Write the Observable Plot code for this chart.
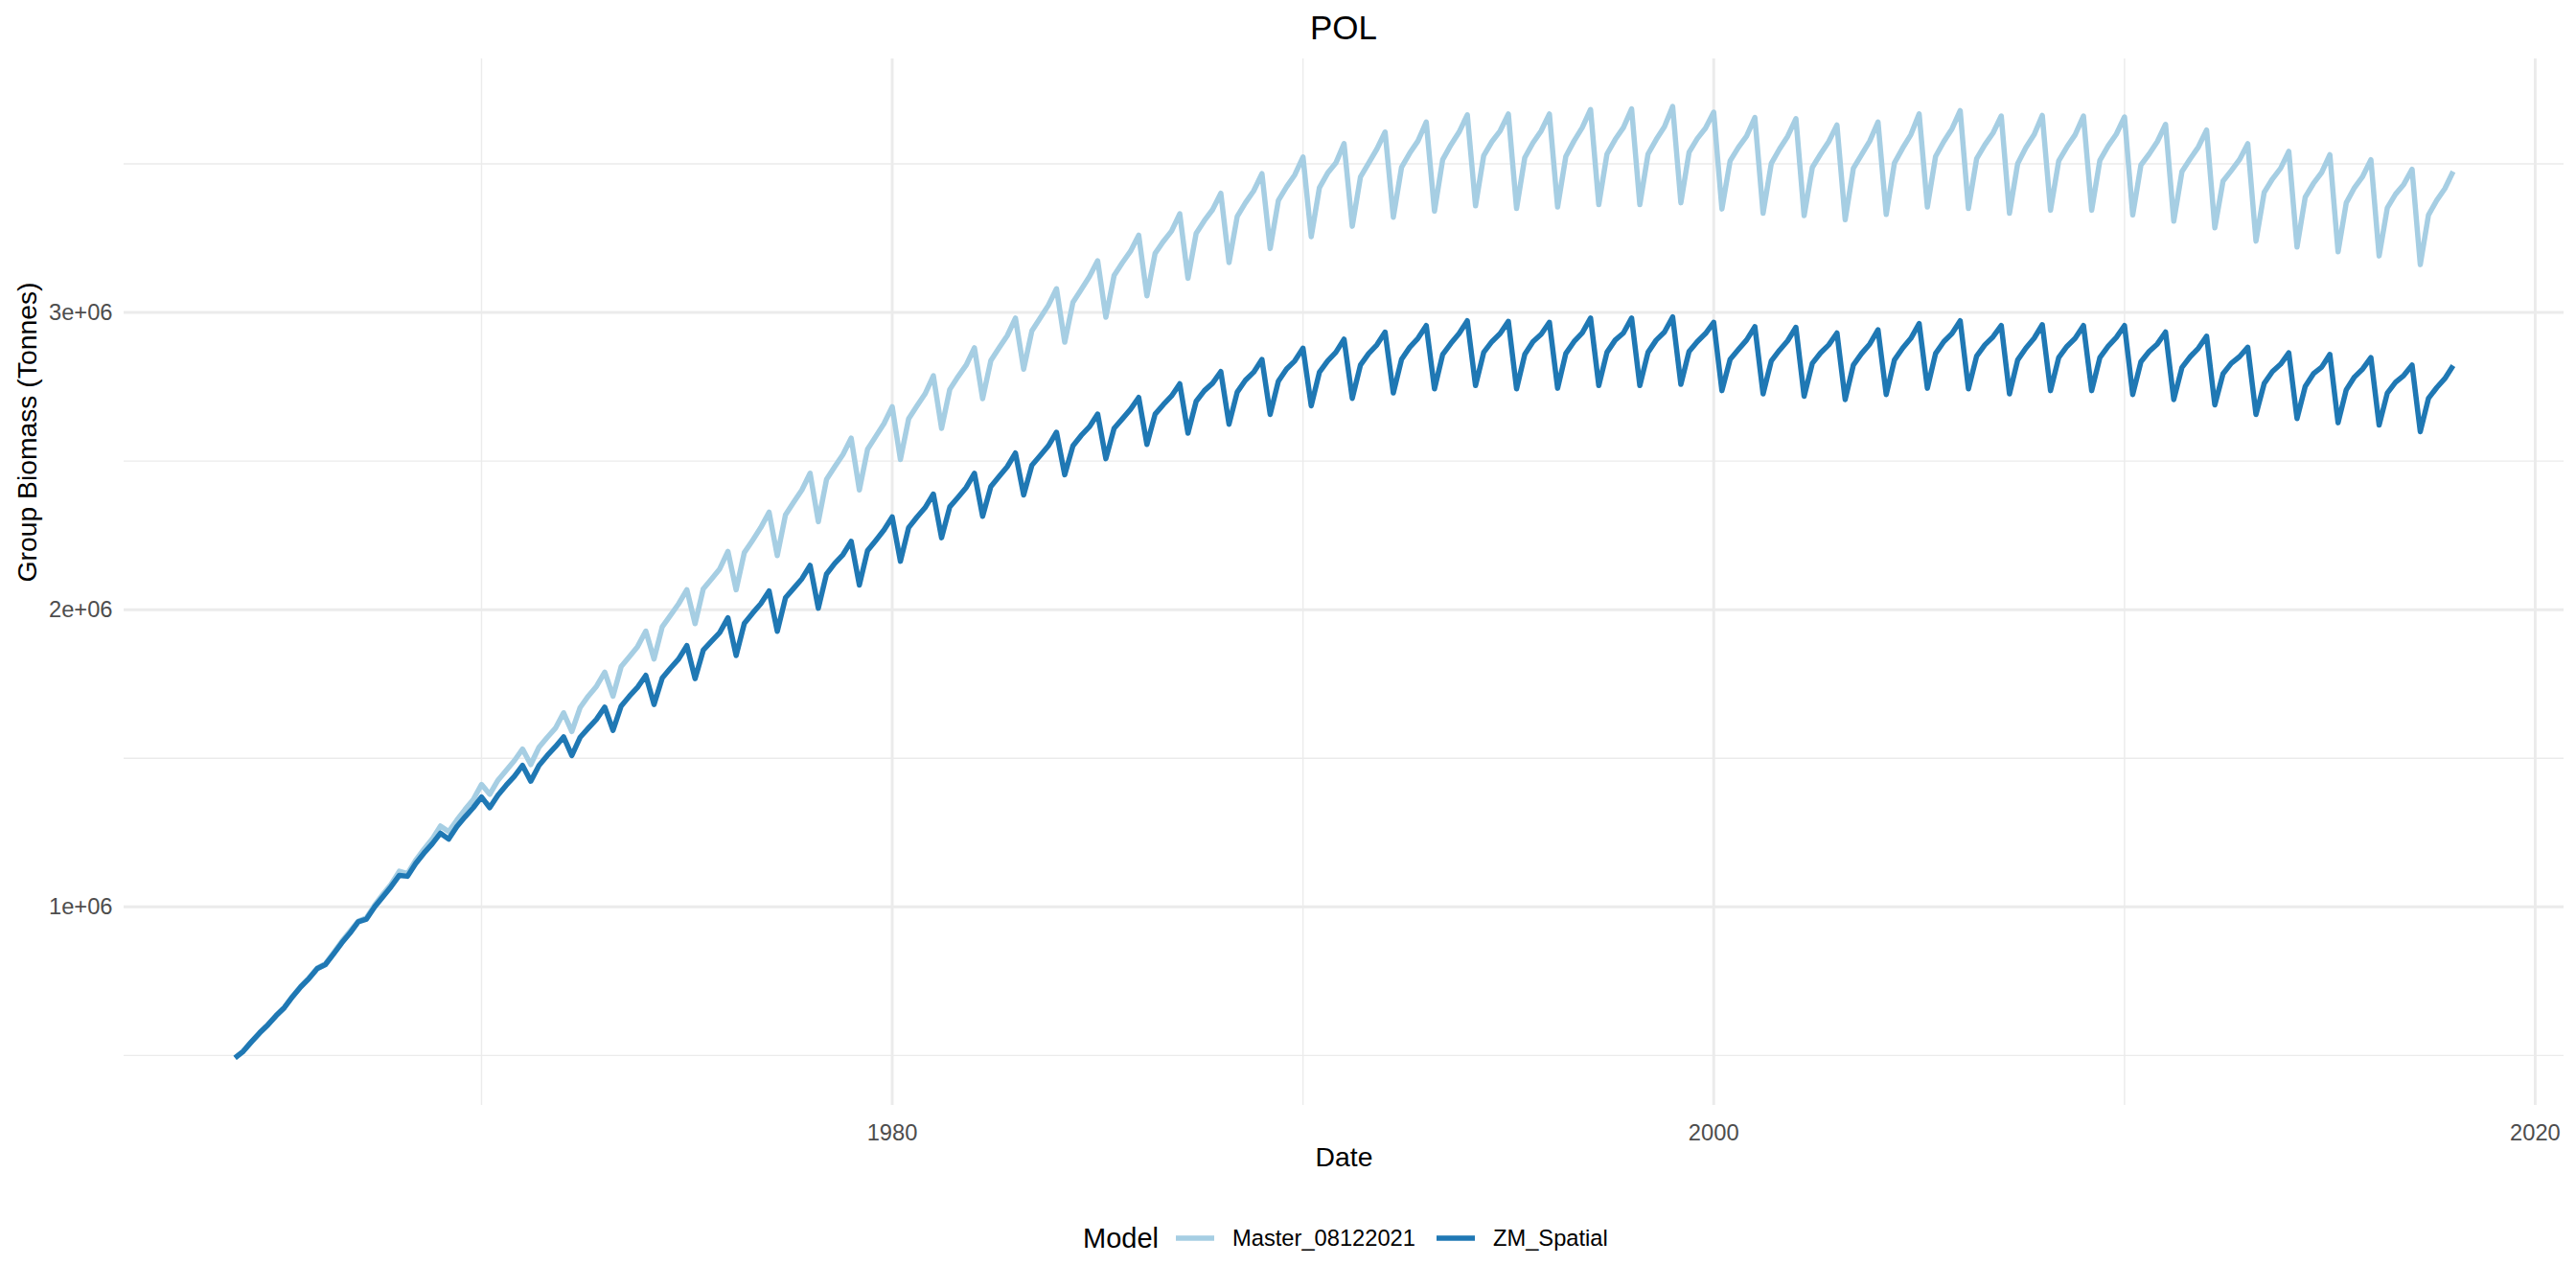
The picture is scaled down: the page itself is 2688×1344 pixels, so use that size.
<!DOCTYPE html>
<html>
<head>
<meta charset="utf-8">
<script src="https://cdn.jsdelivr.net/npm/d3@7"></script>
<script src="https://cdn.jsdelivr.net/npm/@observablehq/plot@0.6"></script>
<style>
  html, body { margin: 0; padding: 0; background: #ffffff; }
  #root { position: relative; width: 2688px; height: 1344px; overflow: hidden; background: #ffffff;
          font-family: "Liberation Sans", Arial, Helvetica, sans-serif; }
  #title { position: absolute; left: 129px; width: 2546px; top: 11px; text-align: center;
           font-size: 35px; line-height: 35px; color: #000000; }
  #chart { position: absolute; left: 0; top: 50px; }
  #legend { position: absolute; left: 1130px; top: 1274px; height: 36px; display: flex; align-items: center;
            white-space: nowrap; color: #000000; }
  #legend .ltitle { font-size: 29px; margin-right: 18px; }
  #legend .key { width: 40px; height: 36px; margin-right: 19px; }
  #legend .lab { font-size: 23.7px; margin-right: 22px; }
</style>
</head>
<body>
<div id="root">
  <div id="title">POL</div>
  <div id="chart"></div>
  <div id="legend"></div>
</div>
<script>
// ---- data (values in millions of tonnes), 5 model time steps (73 days) per year ----
const firstYear = 1964;
const stepDays = [0, 73, 146, 219, 292];
const models = ["Master_08122021", "ZM_Spatial"];
const colors = ["#a6cee3", "#1f78b4"];

const master = [
  [0.492, 0.514, 0.546, 0.576, 0.603], // 1964
  [0.635, 0.662, 0.699, 0.733, 0.761],
  [0.794, 0.809, 0.846, 0.884, 0.918],
  [0.952, 0.963, 1.006, 1.042, 1.076],
  [1.120, 1.112, 1.157, 1.194, 1.228],
  [1.272, 1.253, 1.292, 1.328, 1.361],
  [1.412, 1.379, 1.426, 1.459, 1.492], // 1970
  [1.531, 1.479, 1.537, 1.570, 1.601],
  [1.653, 1.590, 1.670, 1.709, 1.742],
  [1.790, 1.709, 1.809, 1.842, 1.876],
  [1.928, 1.834, 1.942, 1.981, 2.020],
  [2.067, 1.953, 2.070, 2.103, 2.137],
  [2.196, 2.067, 2.192, 2.233, 2.276],
  [2.328, 2.182, 2.319, 2.362, 2.403],
  [2.459, 2.296, 2.438, 2.481, 2.522],
  [2.577, 2.403, 2.540, 2.583, 2.626],
  [2.683, 2.505, 2.642, 2.685, 2.726], // 1980
  [2.787, 2.610, 2.741, 2.784, 2.823],
  [2.881, 2.710, 2.838, 2.881, 2.922],
  [2.981, 2.809, 2.938, 2.981, 3.024],
  [3.080, 2.900, 3.034, 3.077, 3.120],
  [3.174, 2.984, 3.124, 3.167, 3.206],
  [3.260, 3.056, 3.199, 3.239, 3.274],
  [3.332, 3.115, 3.266, 3.309, 3.346],
  [3.401, 3.168, 3.323, 3.369, 3.409],
  [3.467, 3.215, 3.377, 3.423, 3.463],
  [3.523, 3.255, 3.420, 3.469, 3.503], // 1990
  [3.568, 3.290, 3.456, 3.503, 3.550],
  [3.607, 3.320, 3.488, 3.536, 3.577],
  [3.641, 3.341, 3.514, 3.564, 3.607],
  [3.665, 3.359, 3.528, 3.575, 3.611],
  [3.668, 3.350, 3.521, 3.571, 3.611],
  [3.668, 3.355, 3.525, 3.577, 3.622],
  [3.683, 3.363, 3.533, 3.582, 3.622],
  [3.685, 3.363, 3.533, 3.582, 3.625],
  [3.693, 3.369, 3.539, 3.585, 3.620],
  [3.674, 3.348, 3.510, 3.555, 3.593], // 2000
  [3.656, 3.334, 3.501, 3.550, 3.593],
  [3.652, 3.326, 3.488, 3.533, 3.575],
  [3.631, 3.312, 3.485, 3.531, 3.577],
  [3.641, 3.330, 3.503, 3.553, 3.598],
  [3.668, 3.355, 3.525, 3.575, 3.618],
  [3.679, 3.350, 3.517, 3.564, 3.604],
  [3.661, 3.334, 3.501, 3.555, 3.598],
  [3.663, 3.344, 3.510, 3.557, 3.598],
  [3.661, 3.344, 3.512, 3.560, 3.600],
  [3.658, 3.328, 3.496, 3.533, 3.575], // 2010
  [3.633, 3.307, 3.474, 3.517, 3.557],
  [3.614, 3.285, 3.442, 3.477, 3.514],
  [3.568, 3.240, 3.404, 3.449, 3.485],
  [3.542, 3.220, 3.388, 3.434, 3.471],
  [3.531, 3.204, 3.369, 3.420, 3.458],
  [3.514, 3.190, 3.352, 3.398, 3.431],
  [3.482, 3.161, 3.328, 3.377, 3.417],
  [3.474]                               // 2018
];

const zmSpatial = [
  [0.492, 0.514, 0.546, 0.576, 0.603], // 1964
  [0.634, 0.661, 0.698, 0.731, 0.759],
  [0.792, 0.806, 0.842, 0.879, 0.912],
  [0.950, 0.959, 1.000, 1.034, 1.068],
  [1.106, 1.103, 1.146, 1.181, 1.212],
  [1.248, 1.228, 1.270, 1.303, 1.334],
  [1.370, 1.334, 1.376, 1.409, 1.439], // 1970
  [1.476, 1.423, 1.476, 1.509, 1.539],
  [1.572, 1.509, 1.570, 1.601, 1.631],
  [1.672, 1.594, 1.676, 1.709, 1.739],
  [1.779, 1.681, 1.770, 1.803, 1.834],
  [1.879, 1.768, 1.864, 1.894, 1.923],
  [1.973, 1.846, 1.954, 1.988, 2.020],
  [2.063, 1.927, 2.040, 2.072, 2.104],
  [2.149, 2.005, 2.120, 2.156, 2.185],
  [2.230, 2.083, 2.199, 2.233, 2.268],
  [2.312, 2.163, 2.276, 2.311, 2.343], // 1980
  [2.389, 2.242, 2.346, 2.378, 2.411],
  [2.459, 2.314, 2.414, 2.448, 2.481],
  [2.527, 2.386, 2.486, 2.518, 2.551],
  [2.597, 2.454, 2.551, 2.586, 2.615],
  [2.658, 2.508, 2.610, 2.642, 2.674],
  [2.714, 2.556, 2.658, 2.690, 2.719],
  [2.760, 2.594, 2.701, 2.737, 2.762],
  [2.801, 2.624, 2.732, 2.772, 2.799],
  [2.842, 2.657, 2.769, 2.810, 2.837],
  [2.880, 2.686, 2.799, 2.837, 2.866], // 1990
  [2.910, 2.711, 2.823, 2.862, 2.891],
  [2.934, 2.729, 2.842, 2.883, 2.913],
  [2.956, 2.743, 2.859, 2.896, 2.929],
  [2.972, 2.754, 2.866, 2.902, 2.929],
  [2.970, 2.743, 2.859, 2.902, 2.927],
  [2.967, 2.745, 2.862, 2.902, 2.931],
  [2.981, 2.754, 2.866, 2.907, 2.931],
  [2.981, 2.754, 2.866, 2.907, 2.934],
  [2.985, 2.758, 2.869, 2.902, 2.929],
  [2.967, 2.737, 2.842, 2.875, 2.907], // 2000
  [2.952, 2.726, 2.837, 2.873, 2.905],
  [2.950, 2.718, 2.829, 2.864, 2.891],
  [2.931, 2.707, 2.823, 2.862, 2.894],
  [2.942, 2.724, 2.840, 2.880, 2.913],
  [2.963, 2.745, 2.862, 2.902, 2.929],
  [2.972, 2.743, 2.853, 2.891, 2.918],
  [2.956, 2.726, 2.840, 2.880, 2.913],
  [2.959, 2.737, 2.848, 2.886, 2.913],
  [2.956, 2.737, 2.848, 2.886, 2.916],
  [2.956, 2.724, 2.834, 2.869, 2.894], // 2010
  [2.934, 2.707, 2.815, 2.851, 2.880],
  [2.920, 2.689, 2.794, 2.829, 2.851],
  [2.883, 2.657, 2.761, 2.801, 2.826],
  [2.864, 2.643, 2.751, 2.794, 2.816],
  [2.859, 2.629, 2.740, 2.783, 2.810],
  [2.848, 2.621, 2.729, 2.765, 2.788],
  [2.823, 2.599, 2.711, 2.747, 2.778],
  [2.821]                               // 2018
];

// ---- axis ticks / labels ----
const xMajorYears = [1980, 2000, 2020];
const xMinorYears = [1970, 1990, 2010];
const yMajor = [1e6, 2e6, 3e6];
const yMinor = [0.5e6, 1.5e6, 2.5e6, 3.5e6];
const yTickLabels = ["1e+06", "2e+06", "3e+06"];

// ---- build table ----
const seriesData = [master, zmSpatial];
const rows = [];
seriesData.forEach((series, s) => {
  series.forEach((yearVals, yi) => {
    yearVals.forEach((v, j) => {
      rows.push({
        model: models[s],
        date: new Date(Date.UTC(firstYear + yi, 0, 1 + stepDays[j])),
        value: v * 1e6
      });
    });
  });
});

// ggplot-like 5% expansion
const xExt = d3.extent(rows, d => +d.date);
const xPad = (xExt[1] - xExt[0]) * 0.05;
const xDomain = [new Date(xExt[0] - xPad), new Date(xExt[1] + xPad)];
const yExt = d3.extent(rows, d => d.value);
const yPad = (yExt[1] - yExt[0]) * 0.05;
const yDomain = [yExt[0] - yPad, yExt[1] + yPad];

const toDate = y => new Date(Date.UTC(y, 0, 1));
const grid = "#ebebeb";
const font = "Liberation Sans, Arial, Helvetica, sans-serif";

const chart = Plot.plot({
  width: 2688,
  height: 1230,
  marginLeft: 129,
  marginRight: 13,
  marginTop: 11,
  marginBottom: 127,
  style: { fontFamily: font, background: "#ffffff", overflow: "visible" },
  x: { type: "utc", domain: xDomain },
  y: { domain: yDomain },
  color: { domain: models, range: colors },
  marks: [
    Plot.ruleX(xMinorYears.map(toDate), { stroke: grid, strokeWidth: 1.4 }),
    Plot.ruleY(yMinor, { stroke: grid, strokeWidth: 1.4 }),
    Plot.ruleX(xMajorYears.map(toDate), { stroke: grid, strokeWidth: 2.9 }),
    Plot.ruleY(yMajor, { stroke: grid, strokeWidth: 2.9 }),
    Plot.line(rows, {
      x: "date", y: "value", z: "model", stroke: "model",
      strokeWidth: 5.5, strokeLinejoin: "round", strokeLinecap: "butt"
    }),
    Plot.axisX(xMajorYears.map(toDate), {
      tickSize: 0, tickPadding: 20, fontSize: 23.7, color: "#4d4d4d",
      tickFormat: d => String(d.getUTCFullYear()), label: null
    }),
    Plot.axisY(yMajor, {
      tickSize: 0, tickPadding: 12, fontSize: 23.7, color: "#4d4d4d",
      tickFormat: d => yTickLabels[yMajor.indexOf(d)], label: null
    }),
    Plot.text(["Date"], { text: d => d, frameAnchor: "bottom", dy: 63, fontSize: 28.3, fill: "#000000" }),
    Plot.text(["Group Biomass (Tonnes)"], {
      text: d => d, frameAnchor: "left", dx: -101, rotate: -90, fontSize: 28.3, fill: "#000000"
    })
  ]
});
document.getElementById("chart").appendChild(chart);

// ---- legend ----
const legend = document.getElementById("legend");
const lt = document.createElement("span");
lt.className = "ltitle";
lt.textContent = "Model";
legend.appendChild(lt);
models.forEach((m, i) => {
  const ns = "http://www.w3.org/2000/svg";
  const svg = document.createElementNS(ns, "svg");
  svg.setAttribute("class", "key");
  svg.setAttribute("width", "40");
  svg.setAttribute("height", "36");
  const ln = document.createElementNS(ns, "line");
  ln.setAttribute("x1", "0"); ln.setAttribute("x2", "40");
  ln.setAttribute("y1", "18"); ln.setAttribute("y2", "18");
  ln.setAttribute("stroke", colors[i]); ln.setAttribute("stroke-width", "5.5");
  svg.appendChild(ln);
  legend.appendChild(svg);
  const lab = document.createElement("span");
  lab.className = "lab";
  lab.textContent = m;
  legend.appendChild(lab);
});
</script>
</body>
</html>
